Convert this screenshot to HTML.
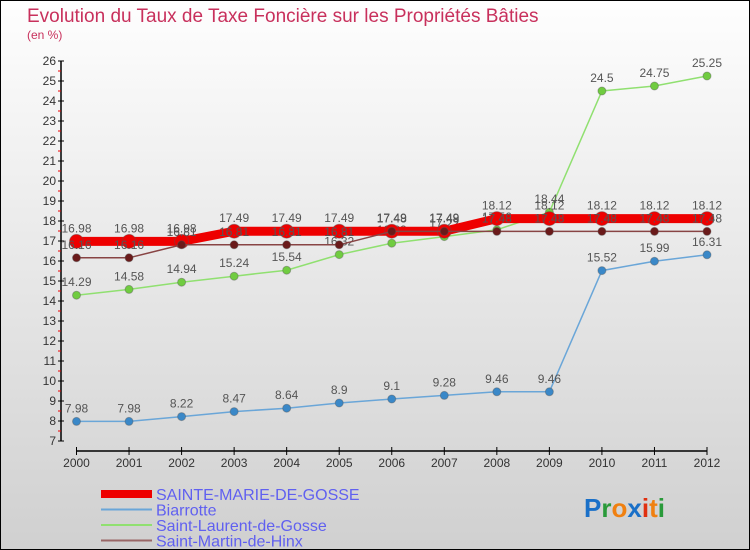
<!DOCTYPE html>
<html><head><meta charset="utf-8"><style>
body{margin:0}
#wrap{width:750px;height:550px;position:relative;box-sizing:border-box;border:1px solid #000;background:linear-gradient(#fefefe,#d0d0d0);font-family:"Liberation Sans",sans-serif;overflow:hidden}
</style></head><body>
<div id="wrap">
<svg id="svg" width="750" height="550" style="position:absolute;left:0;top:0">
<text x="26" y="21" font-size="19" fill="#c8305c">Evolution du Taux de Taxe Foncière sur les Propriétés Bâties</text>
<text x="26" y="38" font-size="12" fill="#c8305c">(en %)</text>
<g id="axes"></g><g id="series"></g><g id="legend"></g>
<text x="583" y="516" font-size="26" font-weight="bold"><tspan fill="#1a70c8">P</tspan><tspan fill="#2a9a3a">r</tspan><tspan fill="#f08010">o</tspan><tspan fill="#1a70c8">x</tspan><tspan fill="#e03010">i</tspan><tspan fill="#f08010">t</tspan><tspan fill="#2a9a3a">i</tspan></text>
</svg>
</div>
<script>
const years=["2000","2001","2002","2003","2004","2005","2006","2007","2008","2009","2010","2011","2012"];
const yTicks=[7,8,9,10,11,12,13,14,15,16,17,18,19,20,21,22,23,24,25,26];
const sainteMarie=[16.98,16.98,16.98,17.49,17.49,17.49,17.49,17.49,18.12,18.12,18.12,18.12,18.12];
const biarrotte=[7.98,7.98,8.22,8.47,8.64,8.9,9.1,9.28,9.46,9.46,15.52,15.99,16.31];
const saintLaurent=[14.29,14.58,14.94,15.24,15.54,16.32,16.89,17.22,17.56,18.44,24.5,24.75,25.25];
const saintMartin=[16.16,16.16,16.81,16.81,16.81,16.81,17.48,17.48,17.48,17.48,17.48,17.48,17.48];
const NS="http://www.w3.org/2000/svg";
const x=i=>75.5+i*(706-75.5)/12;
const y=v=>60+(26-v)*20;
function mk(tag,attrs,parent){const e=document.createElementNS(NS,tag);for(const k in attrs)e.setAttribute(k,attrs[k]);parent.appendChild(e);return e;}
const ax=document.getElementById('axes');
let a=mk('line',{x1:60,y1:y(7),x2:60,y2:y(26),stroke:'#000','stroke-width':1.5},ax);


yTicks.forEach(v=>{
 mk('line',{x1:57,y1:y(v),x2:63,y2:y(v),stroke:'#000'},ax);
 if(v<26)mk('line',{x1:57,y1:y(v+0.5),x2:60,y2:y(v+0.5),stroke:'#e00'},ax);
 const t=mk('text',{x:55,y:y(v)+4,'font-size':12,fill:'#333','text-anchor':'end'},ax);t.textContent=v;
 
 
});
a=mk('line',{x1:x(0),y1:450,x2:x(12),y2:450,stroke:'#000','stroke-width':1.5},ax);


years.forEach((yr,i)=>{
 mk('line',{x1:x(i),y1:446,x2:x(i),y2:454,stroke:'#000'},ax);
 const t=mk('text',{x:x(i),y:466,'font-size':12,fill:'#333','text-anchor':'middle'},ax);t.textContent=yr;
 
 
});
const sg=document.getElementById('series');
function series(data,color,w,r,name,dot){
 const g=mk('g',{},sg);
 
 
 mk('polyline',{points:data.map((v,i)=>x(i)+','+y(v)).join(' '),fill:'none',stroke:color,'stroke-width':w},g);
 data.forEach((v,i)=>{
  const c=mk('circle',{cx:x(i),cy:y(v),r:r,fill:dot,stroke:'#555','stroke-opacity':0.4},g);
  
  
  const t=mk('text',{x:x(i),y:y(v)-9,'font-size':12,fill:'#555','text-anchor':'middle'},g);t.textContent=v;
  
  
 });
}
series(biarrotte,'#6aa6d8',1.5,4,'biarrotte-series','#3a88c8');
series(saintLaurent,'#90e070',1.5,4,'saint-laurent-series','#70cc40');
series(sainteMarie,'#ee0000',9,7,'sainte-marie-series','#ee0000');
series(saintMartin,'#884444',1.5,4,'saint-martin-series','#6a1a1a');
const lg=document.getElementById('legend');
const items=[['SAINTE-MARIE-DE-GOSSE','#ee0000',8],['Biarrotte','#6aa6d8',2],['Saint-Laurent-de-Gosse','#90e070',2],['Saint-Martin-de-Hinx','#996666',2]];
items.forEach((it,i)=>{
 const yy=493+i*15.5;
 const g=mk('g',{},lg);
 
 
 mk('line',{x1:100,y1:yy,x2:151,y2:yy,stroke:it[1],'stroke-width':it[2]},g);
 const t=mk('text',{x:155,y:yy+6,'font-size':16,fill:'#6060f0'},g);t.textContent=it[0];
});
</script>
</body></html>
